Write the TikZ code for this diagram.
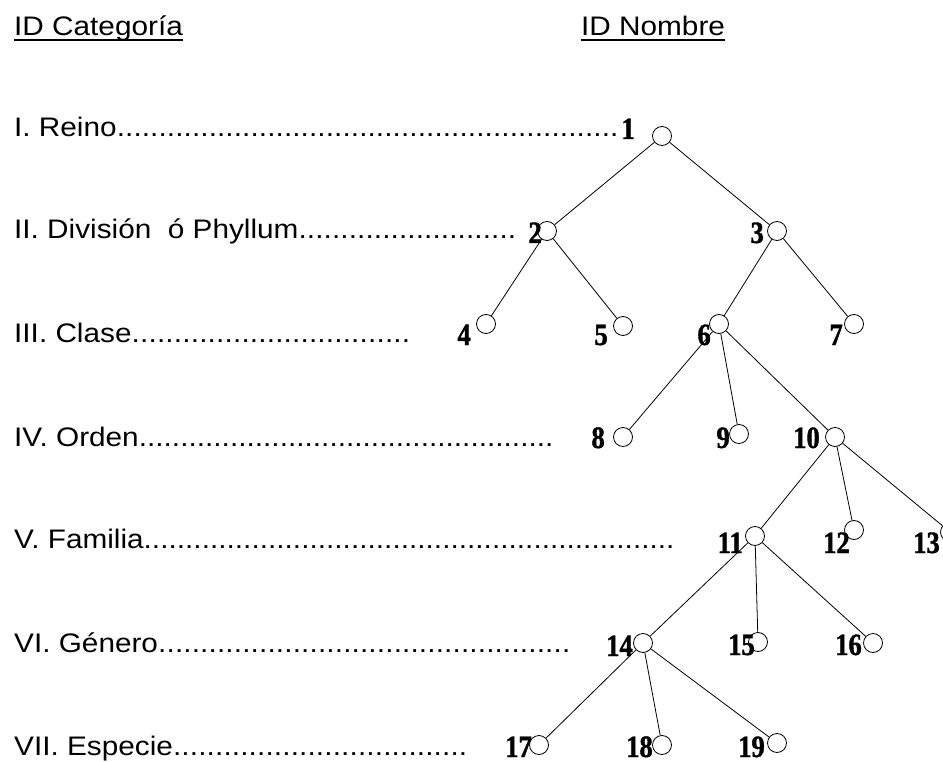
\documentclass[tikz,border=0pt]{standalone}
\usepackage{fontspec}
\setmainfont{Liberation Sans}[FakeStretch=1.11]
\newfontfamily\numfont{Liberation Serif}[FakeStretch=0.86,FakeBold=1.2]
\newcommand{\dotrow}[2]{\makebox[#1][l]{#2\xleaders\hbox{.}\hfill}}
\begin{document}
\begin{tikzpicture}[x=1pt,y=-1pt,
  txt/.style={inner sep=0pt,anchor=base west,font=\fontsize{26.8}{30}\selectfont},
  num/.style={inner sep=0pt,anchor=base east,font=\numfont\bfseries\fontsize{31}{34}\selectfont},
  circ/.style={circle,draw,line width=0.8pt,minimum size=19pt,inner sep=0pt},
  edge/.style={line width=0.8pt}]
\fill[white] (0,0) rectangle (943,762);
\useasboundingbox (0,0) rectangle (943,762);
% headers
\node[txt] (hcat) at (14,36) {ID Categoría};
\node[txt] (hnom) at (581,36) {ID Nombre};
\draw[line width=2.3pt] ([yshift=-3.8pt]hcat.base west) -- ([yshift=-3.8pt]hcat.base east);
\draw[line width=2.3pt] ([yshift=-3.8pt]hnom.base west) -- ([yshift=-3.8pt]hnom.base east);
% rows
\node[txt] (r1) at (14,137) {\dotrow{604pt}{I. Reino}};
\node[txt] (r2) at (14,239) {\dotrow{502pt}{II. División\ \ ó Phyllum}};
\node[txt] (r3) at (14,342) {\dotrow{396pt}{III. Clase}};
\node[txt] (r4) at (14,446) {\dotrow{539pt}{IV. Orden}};
\node[txt] (r5) at (14,548) {\dotrow{660pt}{V. Familia}};
\node[txt] (r6) at (14,652) {\dotrow{556pt}{VI. Género}};
\node[txt] (r7) at (14,755) {\dotrow{453pt}{VII. Especie}};
% circles
\node[circ] (c1) at (662,136) {};
\node[circ] (c2) at (547,231) {};
\node[circ] (c3) at (777,231) {};
\node[circ] (c4) at (486,324) {};
\node[circ] (c5) at (623,326) {};
\node[circ] (c6) at (719,324) {};
\node[circ] (c7) at (854,324) {};
\node[circ] (c8) at (623,437) {};
\node[circ] (c9) at (739,434) {};
\node[circ] (c10) at (835,437) {};
\node[circ] (c11) at (755,536) {};
\node[circ] (c12) at (854,530) {};
\node[circ] (c13) at (950,532) {};
\node[circ] (c14) at (643,643) {};
\node[circ] (c15) at (758,642) {};
\node[circ] (c16) at (873,643) {};
\node[circ] (c17) at (539,745) {};
\node[circ] (c18) at (662,745) {};
\node[circ] (c19) at (777,743) {};
% labels
\node[num] (l1) at (635,139) {1};
\node[num] (l2) at (542,243) {2};
\node[num] (l3) at (764,243) {3};
\node[num] (l4) at (471,345) {4};
\node[num] (l5) at (608,345) {5};
\node[num] (l6) at (711,345) {6};
\node[num] (l7) at (843,345) {7};
\node[num] (l8) at (605,448) {8};
\node[num] (l9) at (730,448) {9};
\node[num] (l10) at (820,448) {10};
\node[num] (l11) at (743,553) {11};
\node[num] (l12) at (850,553) {12};
\node[num] (l13) at (940,553) {13};
\node[num] (l14) at (633,656) {14};
\node[num] (l15) at (755,655) {15};
\node[num] (l16) at (862,655) {16};
\node[num] (l17) at (532,757) {17};
\node[num] (l18) at (653,757) {18};
\node[num] (l19) at (765,757) {19};
% edges
\draw[edge] (c1) -- (c2);
\draw[edge] (c1) -- (c3);
\draw[edge] (c2) -- (c4);
\draw[edge] (c2) -- (c5);
\draw[edge] (c3) -- (c6);
\draw[edge] (c3) -- (c7);
\draw[edge] (c6) -- (c8);
\draw[edge] (c6) -- (c9);
\draw[edge] (c6) -- (c10);
\draw[edge] (c10) -- (c11);
\draw[edge] (c10) -- (c12);
\draw[edge] (c10) -- (c13);
\draw[edge] (c11) -- (c14);
\draw[edge] (c11) -- (c15);
\draw[edge] (c11) -- (c16);
\draw[edge] (c14) -- (c17);
\draw[edge] (c14) -- (c18);
\draw[edge] (c14) -- (c19);
\end{tikzpicture}
\end{document}
